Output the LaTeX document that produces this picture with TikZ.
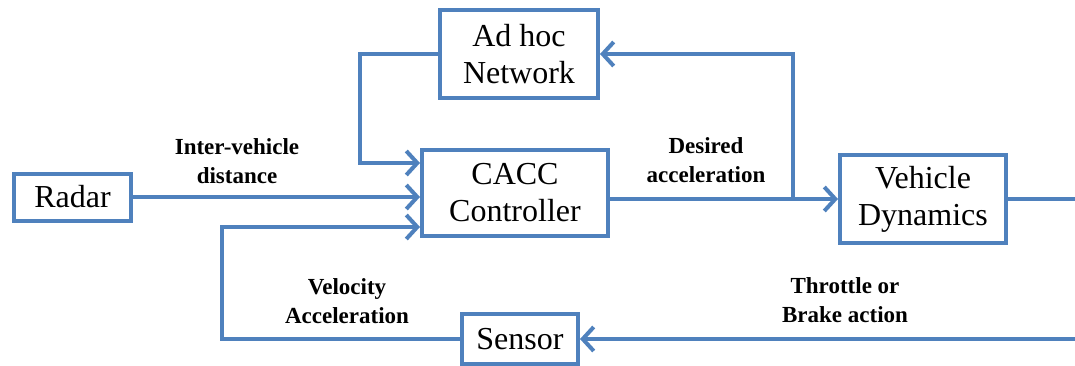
\documentclass[tikz,border=0pt]{standalone}
\usepackage{fontspec}
\setmainfont{Liberation Serif}
\usetikzlibrary{arrows.meta,calc}
\definecolor{lineblue}{RGB}{79,129,189}
\begin{document}
\begin{tikzpicture}[x=1pt,y=1pt,
  blk/.style={draw=lineblue,line width=4pt,fill=white,align=center,inner sep=0pt,
    font=\fontsize{32}{37}\selectfont},
  lbl/.style={align=center,font=\fontsize{23}{29}\selectfont\bfseries},
  conn/.style={draw=lineblue,line width=4pt},
  arr/.style={conn,-{Straight Barb[length=11pt,width=24pt,line width=4pt]}}]
\useasboundingbox (0,0) rectangle (1075,365);
\node[blk,minimum width=158pt,minimum height=88pt] (adhoc) at (519,311) {Ad hoc\\Network};
\node[blk,minimum width=117pt,minimum height=47pt] (radar) at (72.5,168) {Radar};
\node[blk,minimum width=186pt,minimum height=86pt] (cacc) at (515,172) {CACC\\Controller};
\node[blk,minimum width=166pt,minimum height=88pt] (vd) at (923,166) {Vehicle\\Dynamics};
\node[blk,minimum width=116pt,minimum height=50pt] (sensor) at (520,26) {Sensor};
\coordinate (c1) at (360,202);
\coordinate (c2) at (222,138);
\coordinate (br) at (793,166);
\coordinate (e1) at (1090,166);
\coordinate (e2) at (1090,26);
\draw[arr] (adhoc.west) -| (c1) -- (c1 -| cacc.west);
\draw[arr] (radar.east) -- (radar.east -| cacc.west);
\draw[arr] (sensor.west) -| (c2) -- (c2 -| cacc.west);
\draw[arr] (cacc.east |- vd.west) -- (vd.west);
\draw[arr] (br) |- (adhoc.east);
\draw[conn] (vd.east) -- (e1) -- (e2);
\draw[arr] (e2) -- (sensor.east);
\node[lbl] (l1) at (237,204) {Inter-vehicle\\distance};
\node[lbl] (l2) at (706,205) {Desired\\acceleration};
\node[lbl] (l3) at (347,64) {Velocity\\Acceleration};
\node[lbl] (l4) at (845,65) {Throttle or\\Brake action};
\end{tikzpicture}
\end{document}
